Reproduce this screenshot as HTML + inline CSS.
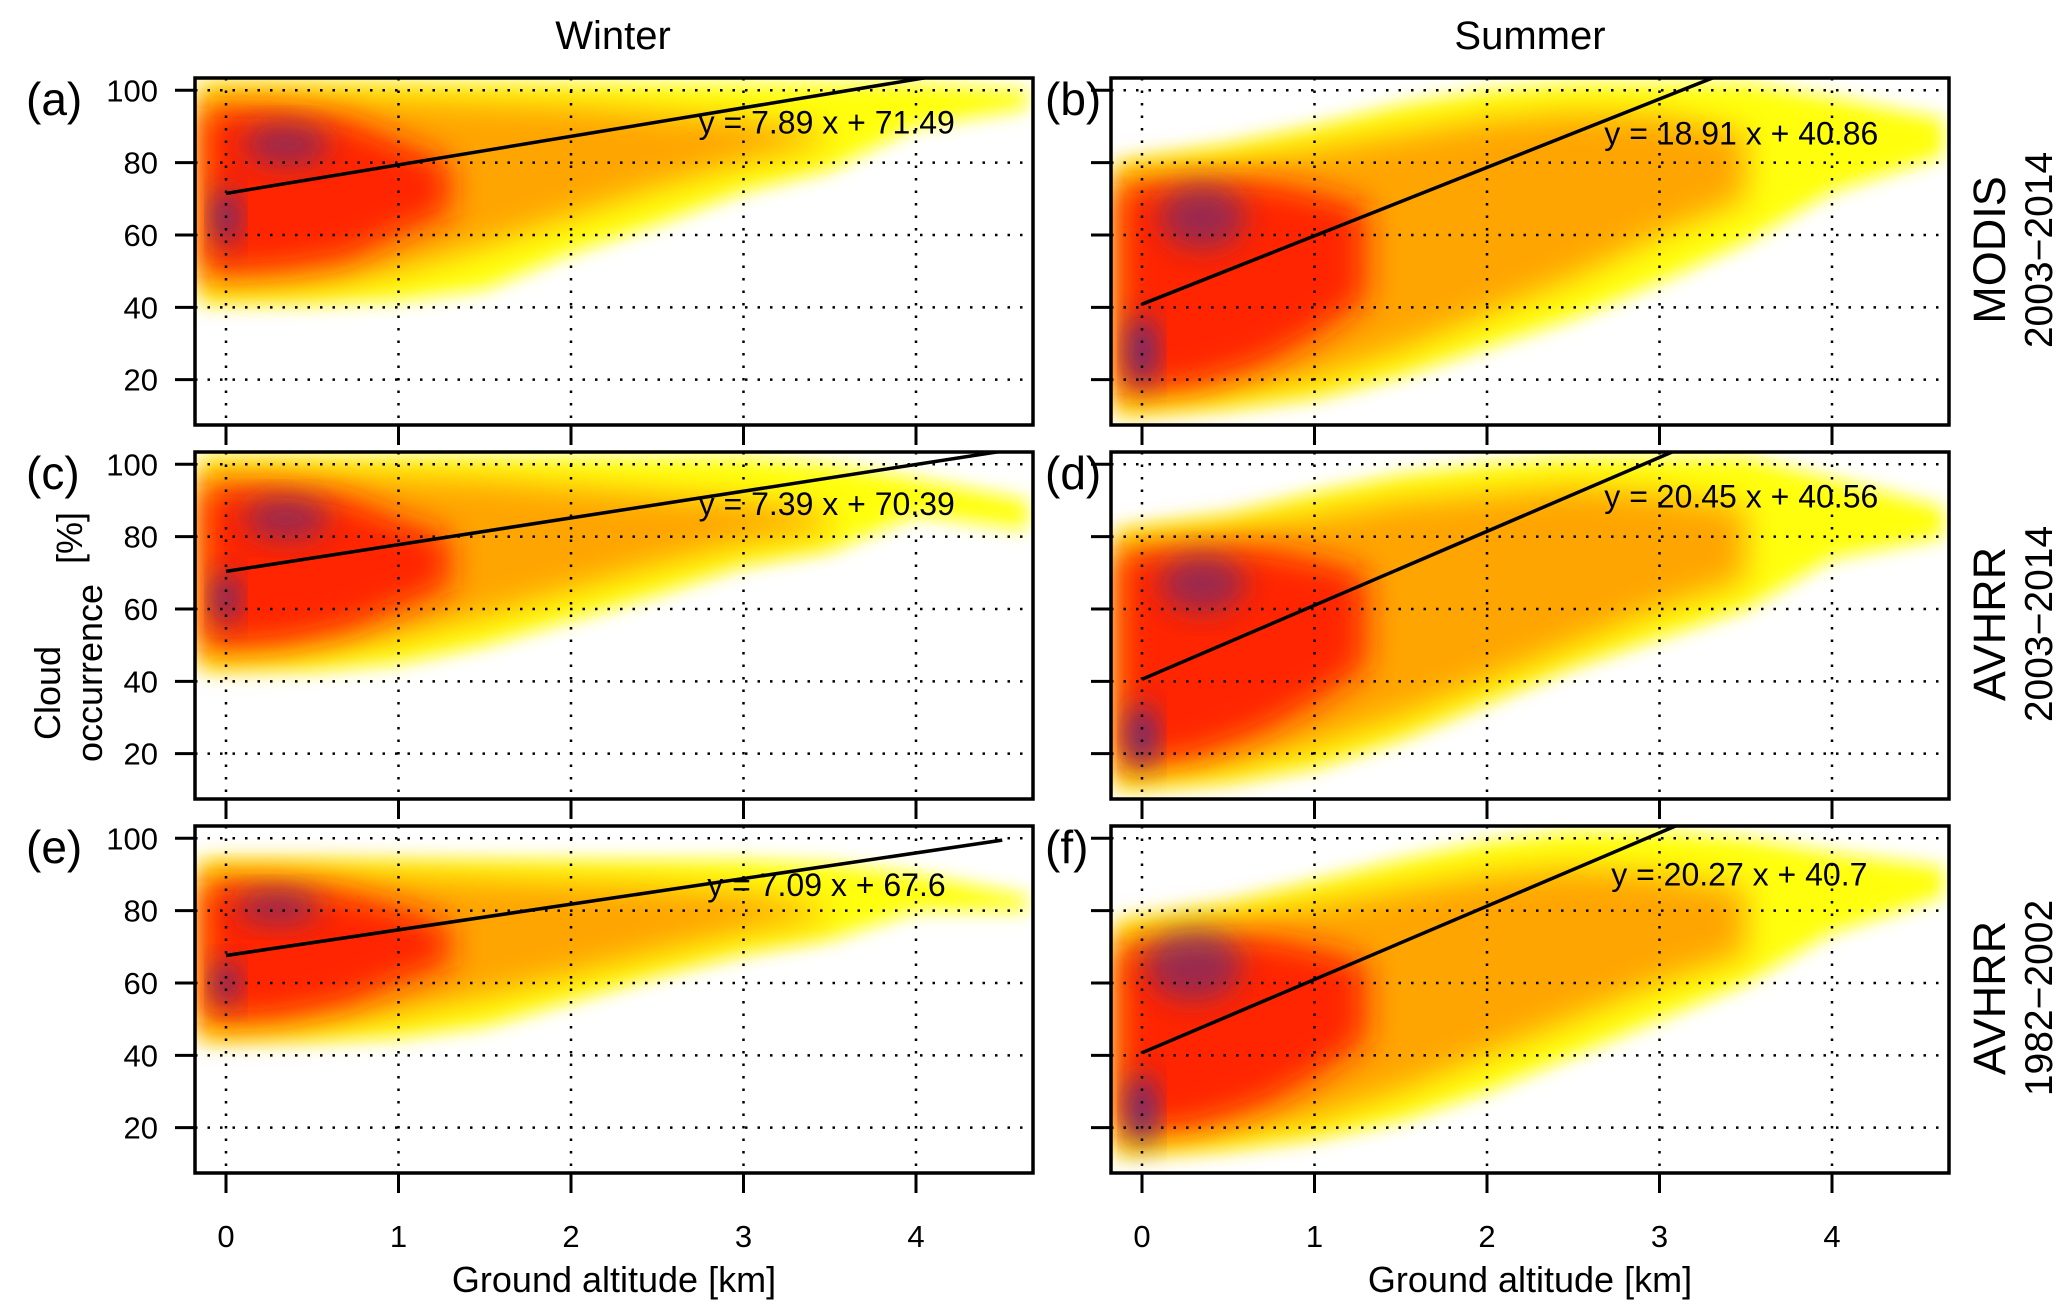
<!DOCTYPE html>
<html><head><meta charset="utf-8"><style>
body{margin:0;background:#fff}
svg{display:block;font-family:"Liberation Sans",Arial,sans-serif}
</style></head><body>
<svg id="fig" width="2067" height="1313" viewBox="0 0 2067 1313" xmlns="http://www.w3.org/2000/svg">
<defs>
<filter id="b1" x="-20%" y="-20%" width="140%" height="140%"><feGaussianBlur stdDeviation="9"/></filter>
<filter id="b2" x="-20%" y="-20%" width="140%" height="140%"><feGaussianBlur stdDeviation="16"/></filter>
<filter id="b3" x="-40%" y="-40%" width="180%" height="180%"><feGaussianBlur stdDeviation="14"/></filter>
</defs>
<text x="613" y="49" font-size="40" text-anchor="middle">Winter</text>
<text x="1530" y="49" font-size="40" text-anchor="middle">Summer</text>
<g font-size="36" text-anchor="middle">
<text transform="translate(60,693) rotate(-90)">Cloud</text>
<text transform="translate(102,673) rotate(-90)">occurrence</text>
<text transform="translate(82,538) rotate(-90)">[%]</text>
</g>
<g id="panels"></g>
</svg>
<script>
const rowNames=['MODIS','AVHRR','AVHRR'];
const rowYears=['2003\u22122014','2003\u22122014','1982\u22122002'];
const letters=['(a)','(b)','(c)','(d)','(e)','(f)'];
const slopes=[7.89,18.91,7.39,20.45,7.09,20.27];
const intercepts=[71.49,40.86,70.39,40.56,67.6,40.7];
const eqLabels=['y = 7.89 x + 71.49','y = 18.91 x + 40.86','y = 7.39 x + 70.39','y = 20.45 x + 40.56','y = 7.09 x + 67.6','y = 20.27 x + 40.7'];
const eqPosX=[2.74,2.68,2.74,2.68,2.79,2.72];
const eqPosY=[88,85,86,88,84,87];
const xTicks=[0,1,2,3,4];
const yTicks=[20,40,60,80,100];
// density envelopes per panel (x in km, y in %)
const yelX=[-0.15,0.5,1,1.5,2,2.5,3,3.5,4,4.65];
const yelHi=[[102,102,102,102,102,102,102,102,102,100],[80,85,90,96,100,102,102,102,98,92],[102,102,102,102,102,102,102,100,96,90],[82,86,92,97,100,102,102,102,96,88],[94,94,94,94,94,94,94,93,90,84],[77,82,88,94,99,102,102,100,96,92]];
const yelLo=[[41,41,42,45,55,63,72,78,90,95],[10,12,15,21,29,37,47,58,72,82],[43,43,45,50,57,64,72,76,86,82],[10,12,16,24,34,44,52,60,74,80],[44,44,45,48,55,62,68,72,80,80],[12,14,17,22,30,40,50,60,74,84]];
const oraX=[-0.15,0.5,1,1.5,2,2.5,3,3.5];
const oraHi=[[99,99,98,97,96,94,92,88],[77,80,84,88,92,94,93,88],[98,98,97,96,94,92,90,86],[78,82,86,90,92,94,92,88],[91,91,90,89,88,87,85,80],[74,78,82,86,90,92,90,86]];
const oraLo=[[45,46,50,57,65,73,80,86],[13,16,20,28,38,48,60,70],[46,48,52,58,65,72,78,82],[13,16,22,30,40,50,60,68],[46,48,51,56,62,68,74,78],[15,18,22,30,40,50,60,68]];
const redX=[-0.15,0.3,0.7,1.0,1.3];
const redHi=[[95,95,92,86,80],[74,75,75,72,68],[94,94,91,85,80],[76,77,77,74,70],[88,88,85,81,76],[70,72,73,70,66]];
const redLo=[[49,50,53,60,66],[16,18,24,32,42],[49,50,54,60,66],[16,19,26,34,44],[49,50,54,60,65],[18,20,26,34,44]];
const blobX=[[0,0.35],[0,0.35],[0,0.35],[0,0.35],[0,0.3],[0,0.3]];
const blobY=[[65,85],[28,65],[63,85],[25,67],[60,81],[25,65]];
const blobW=[[0.07,0.25],[0.08,0.25],[0.07,0.25],[0.08,0.25],[0.07,0.25],[0.08,0.28]];
const blobH=[[8,6],[10,9],[7,6],[9,8],[6,5],[10,10]];

const NS='http://www.w3.org/2000/svg';
const root=document.getElementById('panels');
const colLeft=[195,1111], W=838, rowTop=[78,452,826], H=347;
function sx(c,v){return colLeft[c]+31+v*172.5;}
function sy(r,v){return rowTop[r]+12.3+(100-v)*3.617;}
function mk(tag,attrs,parent){const e=document.createElementNS(NS,tag);for(const k in attrs)e.setAttribute(k,attrs[k]);(parent||root).appendChild(e);return e;}
function poly(c,r,xs,hi,lo){let p=[];xs.forEach((x,i)=>p.push(sx(c,x)+','+sy(r,hi[i])));for(let i=xs.length-1;i>=0;i--)p.push(sx(c,xs[i])+','+sy(r,lo[i]));return p.join(' ');}

for(let i=0;i<6;i++){
  const c=i%2, r=Math.floor(i/2);
  const g=mk('g',{});
  
  
  const cp=mk('clipPath',{id:'cp'+i},g);
  mk('rect',{x:colLeft[c],y:rowTop[r],width:W,height:H},cp);
  const hm=mk('g',{'clip-path':'url(#cp'+i+')'},g);
  
  
  const y1=mk('polygon',{points:poly(c,r,yelX,yelHi[i],yelLo[i]),fill:'#ffff10',filter:'url(#b1)'},hm);
  
  
  const o1=mk('polygon',{points:poly(c,r,oraX,oraHi[i],oraLo[i]),fill:'#ffa000','fill-opacity':0.95,filter:'url(#b2)'},hm);
  
  
  const r1=mk('polygon',{points:poly(c,r,redX,redHi[i],redLo[i]),fill:'#ff1800','fill-opacity':0.9,filter:'url(#b2)'},hm);
  
  
  blobX[i].forEach((bx,k)=>{
    const e=mk('ellipse',{cx:sx(c,bx),cy:sy(r,blobY[i][k]),rx:blobW[i][k]*172.5,ry:blobH[i][k]*3.617,fill:'#3a2a9a','fill-opacity':k==0?0.85:0.5,filter:'url(#b3)'},hm);
    
    
  });
  xTicks.forEach(t=>{const l=mk('line',{x1:sx(c,t),x2:sx(c,t),y1:rowTop[r],y2:rowTop[r]+H,stroke:'#000','stroke-width':2.5,'stroke-dasharray':'2.5 10'},g);
    
    });
  yTicks.forEach(t=>{const l=mk('line',{x1:colLeft[c],x2:colLeft[c]+W,y1:sy(r,t),y2:sy(r,t),stroke:'#000','stroke-width':2.5,'stroke-dasharray':'2.5 10'},g);
    
    });
  const lg=mk('g',{'clip-path':'url(#cp'+i+')'},g);
  const rl=mk('line',{x1:sx(c,0),y1:sy(r,intercepts[i]),x2:sx(c,4.5),y2:sy(r,intercepts[i]+slopes[i]*4.5),stroke:'#000','stroke-width':3.5},lg);
  
  
  const eq=mk('text',{x:sx(c,eqPosX[i]),y:sy(r,eqPosY[i]),'font-size':32},g);
  eq.textContent=eqLabels[i];
  
  
  const fr=mk('rect',{x:colLeft[c],y:rowTop[r],width:W,height:H,fill:'none',stroke:'#000','stroke-width':3.5},g);
  
  
  xTicks.forEach(t=>{const l=mk('line',{x1:sx(c,t),x2:sx(c,t),y1:rowTop[r]+H,y2:rowTop[r]+H+20,stroke:'#000','stroke-width':3},g);
    
    
    if(r==2){const tx=mk('text',{x:sx(c,t),y:1247,'font-size':31,'text-anchor':'middle'},g);tx.textContent=t;
      
      }});
  yTicks.forEach(t=>{const l=mk('line',{x1:colLeft[c]-20,x2:colLeft[c],y1:sy(r,t),y2:sy(r,t),stroke:'#000','stroke-width':3},g);
    
    
    if(c==0){const tx=mk('text',{x:158,y:sy(r,t)+11,'font-size':31,'text-anchor':'end'},g);tx.textContent=t;
      
      }});
  const lt=mk('text',{x:c==0?26:1045,y:rowTop[r]+37,'font-size':46},g);
  lt.textContent=letters[i];
  
  
  if(c==1){
    const n=mk('text',{transform:'translate(2005,'+(rowTop[r]+172)+') rotate(-90)','font-size':45,'text-anchor':'middle'},g);
    n.textContent=rowNames[r];
    
    
    const yv=mk('text',{transform:'translate(2052,'+(rowTop[r]+172)+') rotate(-90)','font-size':39,'text-anchor':'middle'},g);
    yv.textContent=rowYears[r];
    
    
  }
}
[0,1].forEach(c=>{const t=mk('text',{x:colLeft[c]+W/2,y:1292,'font-size':36,'text-anchor':'middle'});t.textContent='Ground altitude [km]';
  
  });
</script>
</body></html>
